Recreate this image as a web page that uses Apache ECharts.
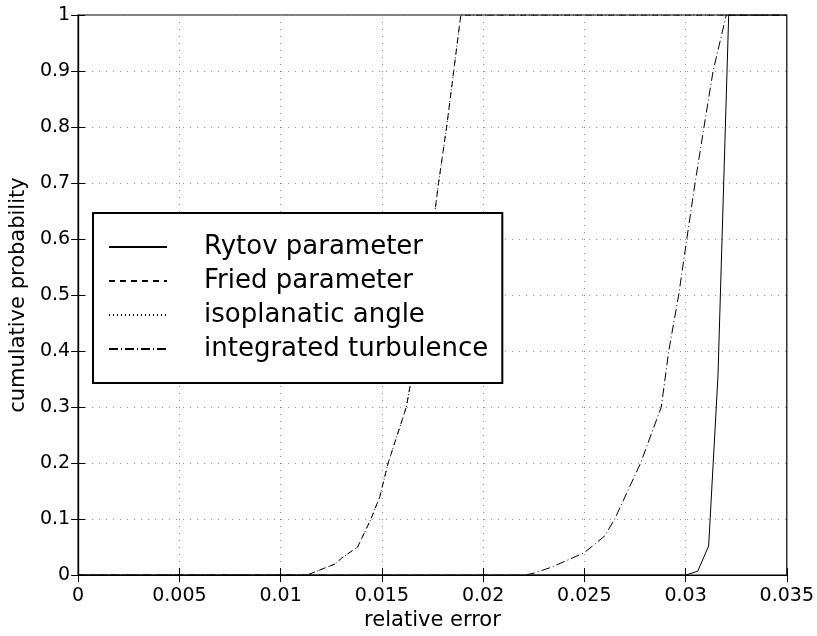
<!DOCTYPE html>
<html>
<head>
<meta charset="utf-8">
<script src="https://cdn.jsdelivr.net/npm/echarts@6/dist/echarts.min.js"></script>
<style>
html,body{margin:0;padding:0;background:#fff;}
#c{width:817px;height:636px;}
</style>
</head>
<body>
<div id="c"></div>
<script>
const xTicks = [0, 0.005, 0.01, 0.015, 0.02, 0.025, 0.03, 0.035];
const yTicks = [0, 0.1, 0.2, 0.3, 0.4, 0.5, 0.6, 0.7, 0.8, 0.9, 1];
const seriesNames = ['Rytov parameter', 'Fried parameter', 'isoplanatic angle', 'integrated turbulence'];

const rytov = [[0,0],[0.0300,0],[0.0306,0.007],[0.03114,0.052],[0.0316,0.355],[0.03213,1],[0.035,1]];
const fried = [[0,0],[0.0113,0],[0.0127,0.02],[0.0130,0.03],[0.0138,0.05],[0.01446,0.1],[0.0149,0.14],[0.01531,0.2],[0.01621,0.3],[0.0167,0.4],[0.0171,0.5],[0.01745,0.6],[0.0178,0.7],[0.0182,0.8],[0.01855,0.9],[0.0189,1],[0.035,1]];
const isoplanatic = [[0,0],[0.0113,0],[0.0127,0.02],[0.0130,0.03],[0.0138,0.05],[0.01446,0.1],[0.0149,0.14],[0.01531,0.2],[0.01621,0.3],[0.0167,0.4],[0.0171,0.5],[0.01745,0.6],[0.0178,0.7],[0.0182,0.8],[0.01855,0.9],[0.0189,1],[0.035,1]];
const integrated = [[0,0],[0.0221,0],[0.02255,0.004],[0.02337,0.014],[0.025,0.04],[0.02601,0.07],[0.0265,0.1],[0.02778,0.2],[0.0288,0.3],[0.02917,0.4],[0.02966,0.5],[0.03006,0.6],[0.03047,0.7],[0.03091,0.8],[0.03136,0.9],[0.03201,1],[0.035,1]];

const FONT = '"DejaVu Sans", "Liberation Sans", Arial, sans-serif';
const gridLine = {show: true, lineStyle: {color: '#8a8a8a', width: 1, type: [1, 6]}};

const chart = echarts.init(document.getElementById('c'), null, {renderer: 'canvas'});
const xLabelFmt = v => { const i = xTicks.findIndex(t => Math.abs(t - v) < 1e-9); return i >= 0 ? String(xTicks[i]) : ''; };
const yLabelFmt = v => { const i = yTicks.findIndex(t => Math.abs(t - v) < 1e-9); return i >= 0 ? String(yTicks[i]) : ''; };

function mk(name, data, type) {
  return {
    name: name, type: 'line', data: data, symbol: 'none', silent: true, animation: false,
    lineStyle: {color: '#000', width: 1, type: type}, z: 3
  };
}

chart.setOption({
  backgroundColor: '#fff',
  animation: false,
  grid: {left: 71, right: 30, top: 15, bottom: 56, show: true, borderColor: '#000', borderWidth: 1.2, backgroundColor: 'transparent'},
  xAxis: [{
    type: 'value', min: 0, max: 0.035, interval: 0.005,
    name: 'relative error', nameLocation: 'middle', nameGap: 30,
    nameTextStyle: {fontFamily: FONT, fontSize: 21, color: '#000'},
    axisLine: {show: true, onZero: false, lineStyle: {color: '#000', width: 1.2}},
    axisTick: {show: true, inside: true, length: 7, lineStyle: {color: '#000'}},
    axisLabel: {fontFamily: FONT, fontSize: 19, color: '#000', margin: 11, formatter: xLabelFmt},
    splitLine: gridLine
  }, {
    type: 'value', min: 0, max: 0.035, interval: 0.005, position: 'top',
    axisLine: {show: true, lineStyle: {color: '#000', width: 1.2}},
    axisTick: {show: true, inside: true, length: 7, lineStyle: {color: '#000'}},
    axisLabel: {show: false}, splitLine: {show: false}
  }],
  yAxis: [{
    type: 'value', min: 0, max: 1, interval: 0.1,
    name: 'cumulative probability', nameLocation: 'middle', nameGap: 46,
    nameTextStyle: {fontFamily: FONT, fontSize: 21, color: '#000'},
    axisLine: {show: true, onZero: false, lineStyle: {color: '#000', width: 1.2}},
    axisTick: {show: true, inside: true, length: 7, lineStyle: {color: '#000'}},
    axisLabel: {fontFamily: FONT, fontSize: 19, color: '#000', margin: 8, formatter: yLabelFmt},
    splitLine: gridLine
  }, {
    type: 'value', min: 0, max: 1, interval: 0.1, position: 'right',
    axisLine: {show: true, lineStyle: {color: '#000', width: 1.2}},
    axisTick: {show: true, inside: true, length: 7, lineStyle: {color: '#000'}},
    axisLabel: {show: false}, splitLine: {show: false}
  }],
  legend: {
    data: seriesNames, orient: 'vertical', left: 93, top: 213,
    backgroundColor: '#fff', borderColor: '#000', borderWidth: 2,
    padding: [21, 14, 21, 15], itemWidth: 58, itemHeight: 20, itemGap: 8,
    itemStyle: {opacity: 0},
    textStyle: {fontFamily: FONT, fontSize: 26, color: '#000', lineHeight: 26, padding: [0, 0, 0, 32]},
    selectedMode: false, z: 10
  },
  series: [
    mk(seriesNames[0], rytov, 'solid'),
    mk(seriesNames[1], fried, [6, 5]),
    mk(seriesNames[2], isoplanatic, [1, 3]),
    mk(seriesNames[3], integrated, [9, 3, 1, 3])
  ]
});
</script>
</body>
</html>
